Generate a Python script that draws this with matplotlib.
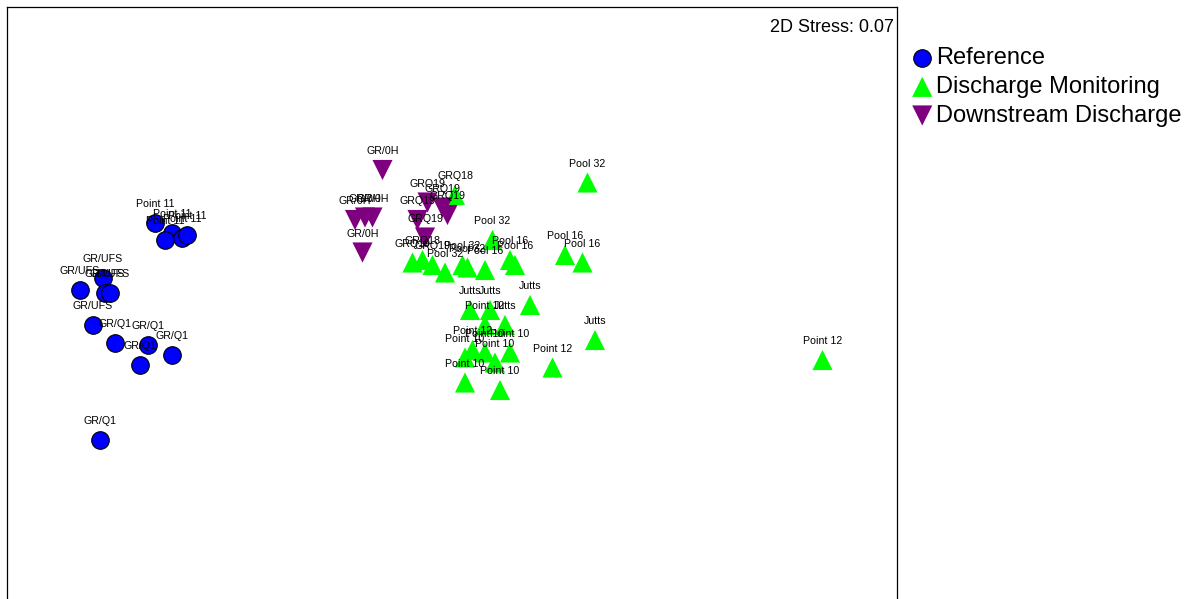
import numpy as np
import matplotlib
matplotlib.use("Agg")
import matplotlib.pyplot as plt

plt.rcParams['font.family'] = ['Liberation Sans', 'DejaVu Sans']

# NMDS coordinates
ref_x = [-1.18, -1.11, -1.14, -1.07, -1.05,
         -1.48, -1.39, -1.38, -1.36, -1.43,
         -1.34, -1.21, -1.11, -1.24, -1.40]
ref_y = [0.31, 0.27, 0.24, 0.25, 0.26,
         0.04, 0.09, 0.03, 0.03, -0.10,
         -0.17, -0.18, -0.22, -0.26, -0.56]
ref_lab = ["Point 11"] * 5 + ["GR/UFS"] * 5 + ["GR/Q1"] * 5

dis_x = [0.02, -0.15, -0.11, -0.07, -0.02, 0.05, 0.07, 0.14, 0.17, 0.24,
         0.26, 0.46, 0.53, 0.55, 0.08, 0.16, 0.22, 0.32, 0.58, 0.14,
         0.09, 0.41, 1.49, 0.24, 0.14, 0.06, 0.18, 0.06, 0.20]
dis_y = [0.42, 0.15, 0.16, 0.14, 0.11, 0.14, 0.13, 0.12, 0.24, 0.16,
         0.14, 0.18, 0.15, 0.47, -0.04, -0.04, -0.10, -0.02, -0.16, -0.10,
         -0.20, -0.27, -0.24, -0.21, -0.21, -0.23, -0.25, -0.33, -0.36]
dis_lab = ["GRQ18", "GRQ19", "GRQ18", "GRQ19", "Pool 32", "Pool 32", "Pool 32",
           "Pool 16", "Pool 32", "Pool 16", "Pool 16", "Pool 16", "Pool 16",
           "Pool 32", "Jutts", "Jutts", "Jutts", "Jutts", "Jutts",
           "Point 12", "Point 12", "Point 12", "Point 12",
           "Point 10", "Point 10", "Point 10", "Point 10", "Point 10", "Point 10"]

down_x = [-0.27, -0.38, -0.34, -0.31, -0.35, -0.09, -0.03, -0.01, -0.13, -0.10]
down_y = [0.52, 0.32, 0.33, 0.33, 0.19, 0.39, 0.37, 0.34, 0.32, 0.25]
down_lab = ["GR/0H"] * 5 + ["GRQ19"] * 5

stress = 0.07

fig = plt.figure(figsize=(11.9, 5.99), dpi=100)
ax = fig.add_axes([7 / 1190, 0, 890 / 1190, 1 - 7 / 599])

ax.scatter(ref_x, ref_y, s=160, marker='o', c='#0000FF', edgecolors='black',
           linewidths=0.8, label='Reference', zorder=3)
ax.scatter(dis_x, dis_y, s=210, marker='^', c='#00FF00', edgecolors='none',
           label='Discharge Monitoring', zorder=3)
ax.scatter(down_x, down_y, s=210, marker='v', c='#7F007F', edgecolors='none',
           label='Downstream Discharge', zorder=3)

for xs, ys, labs in [(ref_x, ref_y, ref_lab), (dis_x, dis_y, dis_lab),
                     (down_x, down_y, down_lab)]:
    for x, y, l in zip(xs, ys, labs):
        ax.annotate(l, (x, y), xytext=(0, 13.5), textcoords='offset points',
                    ha='center', va='center', fontsize=7.7, zorder=4)

ax.set_xlim(-1.772, 1.788)
ax.set_ylim(-1.196, 1.172)
ax.set_xticks([])
ax.set_yticks([])
ax.spines['bottom'].set_visible(False)
for s in ['top', 'left', 'right']:
    ax.spines[s].set_linewidth(0.9)

ax.text(0.996, 0.966, "2D Stress: %.2f" % stress, transform=ax.transAxes,
        ha='right', va='center', fontsize=13)

fig.legend(loc='upper left', bbox_to_anchor=(901 / 1190, 1 - 38 / 599),
           frameon=False, fontsize=17, handletextpad=0.1, labelspacing=0.28,
           borderaxespad=0, handlelength=1.0, markerscale=1.0)

fig.savefig("out.png", dpi=100)
